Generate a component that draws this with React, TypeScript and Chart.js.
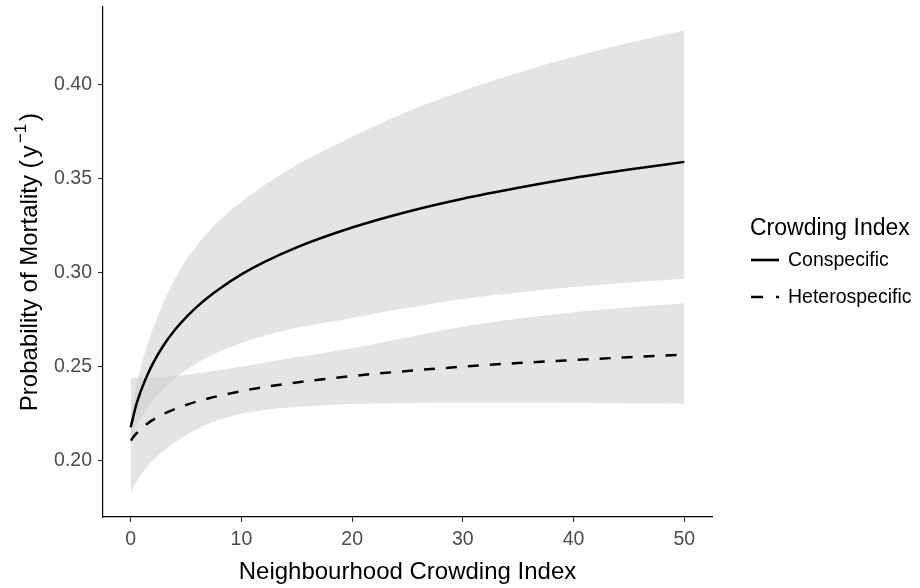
import React, { useEffect, useRef } from "react";
import { Chart, registerables } from "chart.js";

Chart.register(...registerables);

const FONT = '"Liberation Sans", Arial, Helvetica, sans-serif';

// Neighbourhood crowding index (x) sample positions
const xValues = [0, 0.5, 1, 1.5, 2, 3, 4, 5, 6, 7, 8, 10, 12, 15, 20, 25, 30, 35, 40, 45, 50];

// Conspecific crowding: fitted mortality and confidence ribbon
const conspecificMean = [0.2177, 0.2295, 0.2382, 0.2453, 0.2515, 0.2615, 0.2695, 0.2761, 0.2818, 0.2868, 0.2912, 0.2989, 0.3053, 0.3133, 0.3238, 0.3322, 0.3391, 0.3449, 0.3501, 0.3546, 0.3587];
const conspecificUpper = [0.225, 0.24, 0.2515, 0.2615, 0.27, 0.2845, 0.2965, 0.3065, 0.3145, 0.3215, 0.3275, 0.3375, 0.346, 0.357, 0.372, 0.3855, 0.3965, 0.406, 0.4145, 0.422, 0.4287];
const conspecificLower = [0.2095, 0.2175, 0.2235, 0.228, 0.232, 0.238, 0.2435, 0.248, 0.2518, 0.255, 0.2578, 0.2625, 0.2662, 0.2705, 0.2758, 0.281, 0.2858, 0.2893, 0.2922, 0.2946, 0.2966];

// Heterospecific crowding: fitted mortality and confidence ribbon
const heterospecificMean = [0.2106, 0.2143, 0.2172, 0.2196, 0.2216, 0.2248, 0.2274, 0.2295, 0.2314, 0.233, 0.2344, 0.2369, 0.239, 0.2415, 0.2449, 0.2476, 0.2499, 0.2518, 0.2534, 0.2549, 0.2562];
const heterospecificUpper = [0.244, 0.244, 0.244, 0.244, 0.2441, 0.2444, 0.2449, 0.2456, 0.2464, 0.2472, 0.2481, 0.25, 0.252, 0.255, 0.2597, 0.2655, 0.2712, 0.2755, 0.2788, 0.2815, 0.2836];
const heterospecificLower = [0.1824, 0.1885, 0.193, 0.1968, 0.2, 0.2053, 0.2097, 0.2135, 0.2168, 0.2195, 0.2217, 0.2248, 0.2268, 0.2285, 0.23, 0.2306, 0.2308, 0.2308, 0.2307, 0.2305, 0.2302];

// Axis ticks
const xTicks = [0, 10, 20, 30, 40, 50];
const yTicks = [0.2, 0.25, 0.3, 0.35, 0.4];

const xTitle = "Neighbourhood Crowding Index";
const yTitleMain = "Probability of Mortality ";
const yTitleOpen = "(";
const yTitleBase = "y";
const yTitleSup = "\u22121";
const yTitleEnd = ")";
const legendTitle = "Crowding Index";
const seriesNames = ["Conspecific", "Heterospecific"];

const RIBBON = "rgba(205,205,205,0.55)";

const toPoints = (ys: number[]) => xValues.map((x, i) => ({ x, y: ys[i] }));

const ribbon = (ys: number[], fill: any) => ({
  data: toPoints(ys),
  borderColor: "rgba(0,0,0,0)",
  borderWidth: 0,
  backgroundColor: RIBBON,
  pointRadius: 0,
  fill,
  cubicInterpolationMode: "monotone" as const,
  order: 2,
});

const decorPlugin = {
  id: "decor",
  afterDraw(chart: any) {
    const ctx = chart.ctx as CanvasRenderingContext2D;
    const area = chart.chartArea;
    ctx.save();
    ctx.fillStyle = "#000";
    // x title
    ctx.font = `24px ${FONT}`;
    ctx.textAlign = "center";
    ctx.textBaseline = "alphabetic";
    ctx.fillText(xTitle, (area.left + area.right) / 2, 579);

    // y title with superscript
    ctx.save();
    ctx.translate(37, (area.top + area.bottom) / 2);
    ctx.rotate(-Math.PI / 2);
    ctx.textAlign = "left";
    const big = `24px ${FONT}`;
    const paren = `25px ${FONT}`;
    const small = `17px ${FONT}`;
    ctx.font = big;
    const wMain = ctx.measureText(yTitleMain).width;
    const wBase = ctx.measureText(yTitleBase).width;
    ctx.font = paren;
    const wOpen = ctx.measureText(yTitleOpen).width;
    const wEnd = ctx.measureText(yTitleEnd).width;
    ctx.font = small;
    const wSup = ctx.measureText(yTitleSup).width;
    const gap = 2.5;
    const total = wMain + wOpen + gap + wBase + gap + wSup + gap + wEnd;
    let x = -total / 2;
    ctx.font = big;
    ctx.fillText(yTitleMain, x, 0);
    x += wMain;
    ctx.font = paren;
    ctx.fillText(yTitleOpen, x, 1);
    x += wOpen + gap;
    ctx.font = big;
    ctx.fillText(yTitleBase, x, 0);
    x += wBase + gap;
    ctx.font = small;
    ctx.fillText(yTitleSup, x, -11);
    x += wSup + gap;
    ctx.font = paren;
    ctx.fillText(yTitleEnd, x, 1);
    ctx.restore();

    // legend
    const lx = 750;
    ctx.textAlign = "left";
    ctx.font = `23px ${FONT}`;
    ctx.fillText(legendTitle, lx, 235);
    ctx.font = `19.5px ${FONT}`;
    ctx.textBaseline = "middle";
    const rows = [260, 297];
    rows.forEach((y, i) => {
      ctx.strokeStyle = "#000";
      ctx.lineWidth = 2.6;
      ctx.setLineDash(i === 0 ? [] : [12, 13]);
      ctx.beginPath();
      ctx.moveTo(lx + 1, y);
      ctx.lineTo(lx + 29, y);
      ctx.stroke();
      ctx.setLineDash([]);
      ctx.fillStyle = "#000";
      ctx.fillText(seriesNames[i], lx + 38, y + 1);
    });
    ctx.restore();
  },
};

export default function App() {
  const canvasRef = useRef<HTMLCanvasElement | null>(null);

  useEffect(() => {
    if (!canvasRef.current) return;
    const noPad = (scale: any) => {
      scale.paddingTop = 0;
      scale.paddingBottom = 0;
      scale.paddingLeft = 0;
      scale.paddingRight = 0;
    };
    const chart = new Chart(canvasRef.current, {
      type: "line",
      data: {
        datasets: [
          ribbon(conspecificUpper, "+1"),
          ribbon(conspecificLower, false),
          ribbon(heterospecificUpper, "+1"),
          ribbon(heterospecificLower, false),
          {
            label: seriesNames[0],
            data: toPoints(conspecificMean),
            borderColor: "#000",
            borderWidth: 2.5,
            pointRadius: 0,
            fill: false,
            cubicInterpolationMode: "monotone",
            order: 0,
          },
          {
            label: seriesNames[1],
            data: toPoints(heterospecificMean),
            borderColor: "#000",
            borderWidth: 2.5,
            borderDash: [11, 11],
            pointRadius: 0,
            fill: false,
            cubicInterpolationMode: "monotone",
            order: 0,
          },
        ] as any,
      },
      options: {
        animation: false,
        responsive: false,
        devicePixelRatio: 1,
        layout: { padding: { left: 0, top: 7, right: 208, bottom: 0 } },
        plugins: {
          legend: { display: false },
          tooltip: { enabled: false },
          title: { display: false },
        },
        scales: {
          x: {
            type: "linear",
            min: -2.5,
            max: 52.5,
            afterBuildTicks: (scale: any) => {
              scale.ticks = xTicks.map((v) => ({ value: v }));
            },
            afterFit: (scale: any) => {
              scale.height = 71;
              noPad(scale);
            },
            ticks: {
              color: "#4d4d4d",
              font: { family: FONT, size: 19.5 },
              padding: 6,
              maxRotation: 0,
              autoSkip: false,
              callback: (v: any) => String(v),
            },
            grid: {
              drawOnChartArea: false,
              drawTicks: true,
              tickLength: 5,
              tickColor: "#333",
              tickWidth: 1.1,
            },
            border: { display: true, color: "#000", width: 1.2 },
          },
          y: {
            type: "linear",
            min: 0.17,
            max: 0.441,
            afterBuildTicks: (scale: any) => {
              scale.ticks = yTicks.map((v) => ({ value: v }));
            },
            afterFit: (scale: any) => {
              scale.width = 103;
              noPad(scale);
            },
            ticks: {
              color: "#4d4d4d",
              font: { family: FONT, size: 19.5 },
              padding: 6,
              autoSkip: false,
              callback: (v: any) => Number(v).toFixed(2),
            },
            grid: {
              drawOnChartArea: false,
              drawTicks: true,
              tickLength: 5,
              tickColor: "#333",
              tickWidth: 1.1,
            },
            border: { display: true, color: "#000", width: 1.2 },
          },
        },
      },
      plugins: [decorPlugin],
    });
    return () => chart.destroy();
  }, []);

  return (
    <div style={{ position: "fixed", left: 0, top: 0, width: 920, height: 588, background: "#fff" }}>
      <canvas ref={canvasRef} width={920} height={588} style={{ width: 920, height: 588, display: "block" }} />
    </div>
  );
}
